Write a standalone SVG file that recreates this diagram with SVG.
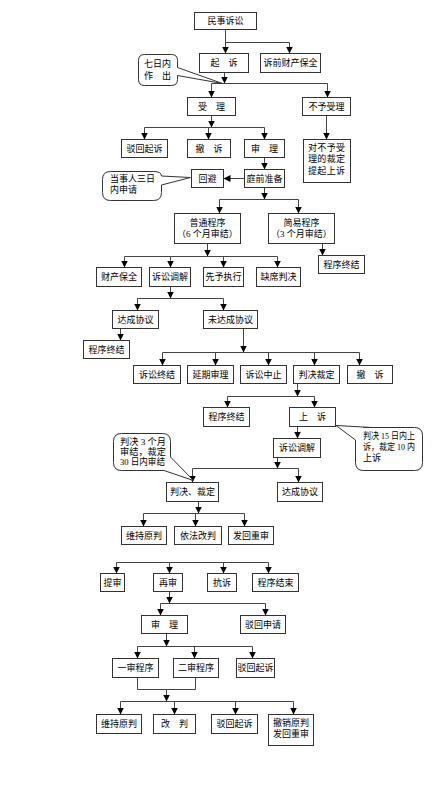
<svg xmlns="http://www.w3.org/2000/svg" width="437" height="800" viewBox="0 0 437 800">
<defs>
<marker id="a" viewBox="0 0 8 8" refX="8" refY="4" markerWidth="7" markerHeight="7" orient="auto" markerUnits="userSpaceOnUse"><path d="M0,0 L8,4 L0,8 z" fill="#000"/></marker>
</defs>
<style>
.b{fill:#fff;stroke:#333;stroke-width:1}
.t{font-family:"Liberation Serif","Noto Sans CJK SC",serif;font-size:9px;fill:#000;text-anchor:middle}
.s{font-family:"Liberation Serif","Noto Sans CJK SC",serif;font-size:9px;fill:#000}
.c{fill:none;stroke:#444;stroke-width:1}
.ar{fill:none;stroke:#444;stroke-width:1;marker-end:url(#a)}
.co{fill:#fff;stroke:#333;stroke-width:1}
</style>
<rect x="0" y="0" width="437" height="800" fill="#fff"/>
<g id="connectors">
<path class="ar" d="M225.5,29.5 V53.5"/>
<path class="ar" d="M225.5,42.5 H289.5 V53.5"/>
<path class="ar" d="M224.5,72.5 V83.5"/>
<path class="c" d="M211.5,83.5 H327.5"/>
<path class="ar" d="M211.5,83.5 V97.5"/>
<path class="ar" d="M327.5,83.5 V97.5"/>
<path class="ar" d="M211.5,115.5 V127.5"/>
<path class="c" d="M144.5,127.5 H264.5"/>
<path class="ar" d="M144.5,127.5 V139.5"/>
<path class="ar" d="M208.5,127.5 V139.5"/>
<path class="ar" d="M264.5,127.5 V139.5"/>
<path class="ar" d="M326.5,115.5 V139.5"/>
<path class="ar" d="M264.5,157.5 V169.5"/>
<path class="ar" d="M244.5,178.5 H223.5"/>
<path class="ar" d="M264.5,187.5 V199.5"/>
<path class="c" d="M219.5,199.5 H298.5"/>
<path class="ar" d="M219.5,199.5 V213.5"/>
<path class="ar" d="M298.5,199.5 V213.5"/>
<path class="ar" d="M322.5,243.5 V255.5"/>
<path class="ar" d="M207.5,243.5 V256.5"/>
<path class="c" d="M124.5,256.5 H277.5"/>
<path class="ar" d="M124.5,256.5 V267.5"/>
<path class="ar" d="M170.5,256.5 V267.5"/>
<path class="ar" d="M223.5,256.5 V267.5"/>
<path class="ar" d="M277.5,256.5 V267.5"/>
<path class="ar" d="M170.5,286.5 V298.5"/>
<path class="c" d="M137.5,298.5 H223.5"/>
<path class="ar" d="M137.5,298.5 V310.5"/>
<path class="ar" d="M223.5,298.5 V310.5"/>
<path class="ar" d="M120.5,328.5 V340.5"/>
<path class="ar" d="M243.5,328.5 V352.5"/>
<path class="c" d="M162.5,352.5 H359.5"/>
<path class="ar" d="M162.5,352.5 V365.5"/>
<path class="ar" d="M215.5,352.5 V365.5"/>
<path class="ar" d="M268.5,352.5 V365.5"/>
<path class="ar" d="M314.5,352.5 V365.5"/>
<path class="ar" d="M359.5,352.5 V365.5"/>
<path class="ar" d="M297.5,383.5 V396.5"/>
<path class="c" d="M227.5,396.5 H314.5"/>
<path class="ar" d="M227.5,396.5 V407.5"/>
<path class="ar" d="M314.5,396.5 V407.5"/>
<path class="ar" d="M297.5,426.5 V438.5"/>
<path class="ar" d="M277.5,457.5 V468.5"/>
<path class="c" d="M192.5,468.5 H298.5"/>
<path class="ar" d="M192.5,468.5 V482.5"/>
<path class="ar" d="M298.5,468.5 V482.5"/>
<path class="ar" d="M198.5,501.5 V513.5"/>
<path class="c" d="M143.5,513.5 H244.5"/>
<path class="ar" d="M143.5,513.5 V526.5"/>
<path class="ar" d="M195.5,513.5 V526.5"/>
<path class="ar" d="M244.5,513.5 V526.5"/>
<path class="c" d="M116.5,562.5 H268.5"/>
<path class="ar" d="M116.5,562.5 V573.5"/>
<path class="ar" d="M169.5,562.5 V573.5"/>
<path class="ar" d="M223.5,562.5 V573.5"/>
<path class="ar" d="M268.5,562.5 V573.5"/>
<path class="ar" d="M169.5,591.5 V603.5"/>
<path class="c" d="M160.5,603.5 H265.5"/>
<path class="ar" d="M160.5,603.5 V615.5"/>
<path class="ar" d="M265.5,603.5 V615.5"/>
<path class="ar" d="M166.5,633.5 V646.5"/>
<path class="c" d="M137.5,646.5 H252.5"/>
<path class="ar" d="M137.5,646.5 V658.5"/>
<path class="ar" d="M194.5,646.5 V658.5"/>
<path class="ar" d="M252.5,646.5 V658.5"/>
<path class="c" d="M137.5,677.5 V689.5 H195.5 V677.5"/>
<path class="ar" d="M166.5,689.5 V701.5"/>
<path class="c" d="M120.5,701.5 H293.5"/>
<path class="ar" d="M120.5,701.5 V714.5"/>
<path class="ar" d="M174.5,701.5 V714.5"/>
<path class="ar" d="M235.5,701.5 V714.5"/>
<path class="ar" d="M293.5,701.5 V714.5"/>
</g>
<g id="callout1"><path class="co" d="M144.5,54.5 H171.5 Q177.5,54.5 177.5,60.5 V67.5 L222.5,83.5 L177.5,75.5 V79.5 Q177.5,85.5 171.5,85.5 H144.5 Q138.5,85.5 138.5,79.5 V60.5 Q138.5,54.5 144.5,54.5 Z"/><text class="s" x="144" y="67">七日内</text><text class="s" x="144" y="79">作　出</text></g>
<g id="callout2"><path class="co" d="M110.5,171.5 H153.5 Q161.5,171.5 161.5,176 L190.5,177.5 L161.5,185 V192.5 Q161.5,200.5 153.5,200.5 H110.5 Q102.5,200.5 102.5,192.5 V179.5 Q102.5,171.5 110.5,171.5 Z"/><text class="s" x="110" y="181.5">当事人三日</text><text class="s" x="110" y="192.5">内申请</text></g>
<g id="callout3"><path class="co" d="M121.5,433.5 H162.5 Q170.5,433.5 170.5,441.5 V457 L193.5,480.5 L164,470.5 H121.5 Q113.5,470.5 113.5,462.5 V441.5 Q113.5,433.5 121.5,433.5 Z"/><text class="s" x="120" y="445" font-size="8.5" textLength="46" lengthAdjust="spacingAndGlyphs">判决 3 个月</text><text class="s" x="120" y="455" font-size="8.5" textLength="46" lengthAdjust="spacingAndGlyphs">审结，裁定</text><text class="s" x="120" y="465" font-size="8.5" textLength="45" lengthAdjust="spacingAndGlyphs">30 日内审结</text></g>
<g id="callout4"><path class="co" d="M363.5,427.5 H414.5 Q422.5,427.5 422.5,435.5 V462.5 Q422.5,470.5 414.5,470.5 H363.5 Q355.5,470.5 355.5,462.5 V440 L336,425.5 L372,427.5 Z"/><text class="s" x="363" y="438.5" font-size="8.5" textLength="52" lengthAdjust="spacingAndGlyphs">判决 15 日内上</text><text class="s" x="363" y="449.5" font-size="8.5" textLength="52" lengthAdjust="spacingAndGlyphs">诉，裁定 10 内</text><text class="s" x="363" y="460.5" font-size="8.5">上诉</text></g>
<g id="n1"><rect class="b" x="194.5" y="12.5" width="62" height="17"/><text class="t" x="225.5" y="24">民事诉讼</text></g>
<g id="n2"><rect class="b" x="199.5" y="53.5" width="49" height="19"/><text class="t" x="224" y="66">起　诉</text></g>
<g id="n3"><rect class="b" x="260.5" y="53.5" width="60" height="19"/><text class="t" x="290.5" y="66">诉前财产保全</text></g>
<g id="n4"><rect class="b" x="187.5" y="97.5" width="48" height="18"/><text class="t" x="211.5" y="109.5">受　理</text></g>
<g id="n5"><rect class="b" x="302.5" y="97.5" width="48" height="18"/><text class="t" x="326.5" y="109.5">不予受理</text></g>
<g id="n6"><rect class="b" x="121.5" y="139.5" width="46" height="18"/><text class="t" x="144.5" y="151.5">驳回起诉</text></g>
<g id="n7"><rect class="b" x="187.5" y="139.5" width="43" height="18"/><text class="t" x="209" y="151.5">撤　诉</text></g>
<g id="n8"><rect class="b" x="244.5" y="139.5" width="40" height="18"/><text class="t" x="264.5" y="151.5">审　理</text></g>
<g id="n9"><rect class="b" x="303.5" y="139.5" width="47" height="43"/><text class="s" x="308" y="150.5" textLength="37" lengthAdjust="spacing">对不予受</text><text class="s" x="308" y="162" textLength="37" lengthAdjust="spacing">理的裁定</text><text class="s" x="308" y="173.5" textLength="37" lengthAdjust="spacing">提起上诉</text></g>
<g id="n10"><rect class="b" x="191.5" y="169.5" width="32" height="18"/><text class="t" x="207.5" y="181.5">回避</text></g>
<g id="n11"><rect class="b" x="244.5" y="169.5" width="40" height="18"/><text class="t" x="264.5" y="181.5">庭前准备</text></g>
<g id="n12"><rect class="b" x="174.5" y="213.5" width="66" height="30"/><text class="t" x="207.5" y="226">普通程序</text><text class="t" x="207.5" y="237">（6 个月审结）</text></g>
<g id="n13"><rect class="b" x="268.5" y="213.5" width="66" height="30"/><text class="t" x="301.5" y="226">简易程序</text><text class="t" x="301.5" y="237">（3 个月审结）</text></g>
<g id="n14"><rect class="b" x="318.5" y="255.5" width="46" height="18"/><text class="t" x="341.5" y="267.5">程序终结</text></g>
<g id="n15"><rect class="b" x="96.5" y="267.5" width="45" height="19"/><text class="t" x="119" y="280">财产保全</text></g>
<g id="n16"><rect class="b" x="149.5" y="267.5" width="41" height="19"/><text class="t" x="170" y="280">诉讼调解</text></g>
<g id="n17"><rect class="b" x="203.5" y="267.5" width="40" height="19"/><text class="t" x="223.5" y="280">先予执行</text></g>
<g id="n18"><rect class="b" x="256.5" y="267.5" width="44" height="19"/><text class="t" x="278.5" y="280">缺席判决</text></g>
<g id="n19"><rect class="b" x="112.5" y="310.5" width="46" height="18"/><text class="t" x="135.5" y="322.5">达成协议</text></g>
<g id="n20"><rect class="b" x="203.5" y="310.5" width="54" height="18"/><text class="t" x="230.5" y="322.5">未达成协议</text></g>
<g id="n21"><rect class="b" x="83.5" y="340.5" width="46" height="18"/><text class="t" x="106.5" y="352.5">程序终结</text></g>
<g id="n22"><rect class="b" x="133.5" y="365.5" width="47" height="18"/><text class="t" x="157" y="377.5">诉讼终结</text></g>
<g id="n23"><rect class="b" x="187.5" y="365.5" width="46" height="18"/><text class="t" x="210.5" y="377.5">延期审理</text></g>
<g id="n24"><rect class="b" x="240.5" y="365.5" width="46" height="18"/><text class="t" x="263.5" y="377.5">诉讼中止</text></g>
<g id="n25"><rect class="b" x="293.5" y="365.5" width="46" height="18"/><text class="t" x="316.5" y="377.5">判决裁定</text></g>
<g id="n26"><rect class="b" x="347.5" y="365.5" width="45" height="18"/><text class="t" x="370" y="377.5">撤　诉</text></g>
<g id="n27"><rect class="b" x="203.5" y="407.5" width="46" height="19"/><text class="t" x="226.5" y="420">程序终结</text></g>
<g id="n28"><rect class="b" x="289.5" y="407.5" width="46" height="19"/><text class="t" x="312.5" y="420">上　诉</text></g>
<g id="n29"><rect class="b" x="273.5" y="438.5" width="47" height="19"/><text class="t" x="297" y="451">诉讼调解</text></g>
<g id="n30"><rect class="b" x="166.5" y="482.5" width="52" height="19"/><text class="t" x="192.5" y="495">判决、裁定</text></g>
<g id="n31"><rect class="b" x="277.5" y="482.5" width="45" height="19"/><text class="t" x="300" y="495">达成协议</text></g>
<g id="n32"><rect class="b" x="121.5" y="526.5" width="45" height="18"/><text class="t" x="144" y="538.5">维持原判</text></g>
<g id="n33"><rect class="b" x="174.5" y="526.5" width="47" height="18"/><text class="t" x="198" y="538.5">依法改判</text></g>
<g id="n34"><rect class="b" x="228.5" y="526.5" width="45" height="18"/><text class="t" x="251" y="538.5">发回重审</text></g>
<g id="n35"><rect class="b" x="100.5" y="573.5" width="24" height="18"/><text class="t" x="112.5" y="585.5">提审</text></g>
<g id="n36"><rect class="b" x="153.5" y="573.5" width="29" height="18"/><text class="t" x="168" y="585.5">再审</text></g>
<g id="n37"><rect class="b" x="207.5" y="573.5" width="29" height="18"/><text class="t" x="222" y="585.5">抗诉</text></g>
<g id="n38"><rect class="b" x="252.5" y="573.5" width="46" height="18"/><text class="t" x="275.5" y="585.5">程序结束</text></g>
<g id="n39"><rect class="b" x="141.5" y="615.5" width="46" height="18"/><text class="t" x="164.5" y="627.5">审　理</text></g>
<g id="n40"><rect class="b" x="240.5" y="615.5" width="45" height="18"/><text class="t" x="263" y="627.5">驳回申请</text></g>
<g id="n41"><rect class="b" x="112.5" y="658.5" width="46" height="19"/><text class="t" x="135.5" y="671">一审程序</text></g>
<g id="n42"><rect class="b" x="173.5" y="658.5" width="45" height="19"/><text class="t" x="196" y="671">二审程序</text></g>
<g id="n43"><rect class="b" x="236.5" y="658.5" width="38" height="19"/><text class="t" x="255.5" y="670.5" font-size="7.5">驳回起诉</text></g>
<g id="n44"><rect class="b" x="96.5" y="714.5" width="45" height="19"/><text class="t" x="119" y="727">维持原判</text></g>
<g id="n45"><rect class="b" x="153.5" y="714.5" width="42" height="19"/><text class="t" x="174.5" y="727">改　判</text></g>
<g id="n46"><rect class="b" x="211.5" y="714.5" width="46" height="19"/><text class="t" x="234.5" y="727">驳回起诉</text></g>
<g id="n47"><rect class="b" x="268.5" y="714.5" width="45" height="31"/><text class="t" x="291" y="726">撤销原判</text><text class="t" x="291" y="737">发回重审</text></g>
</svg>
